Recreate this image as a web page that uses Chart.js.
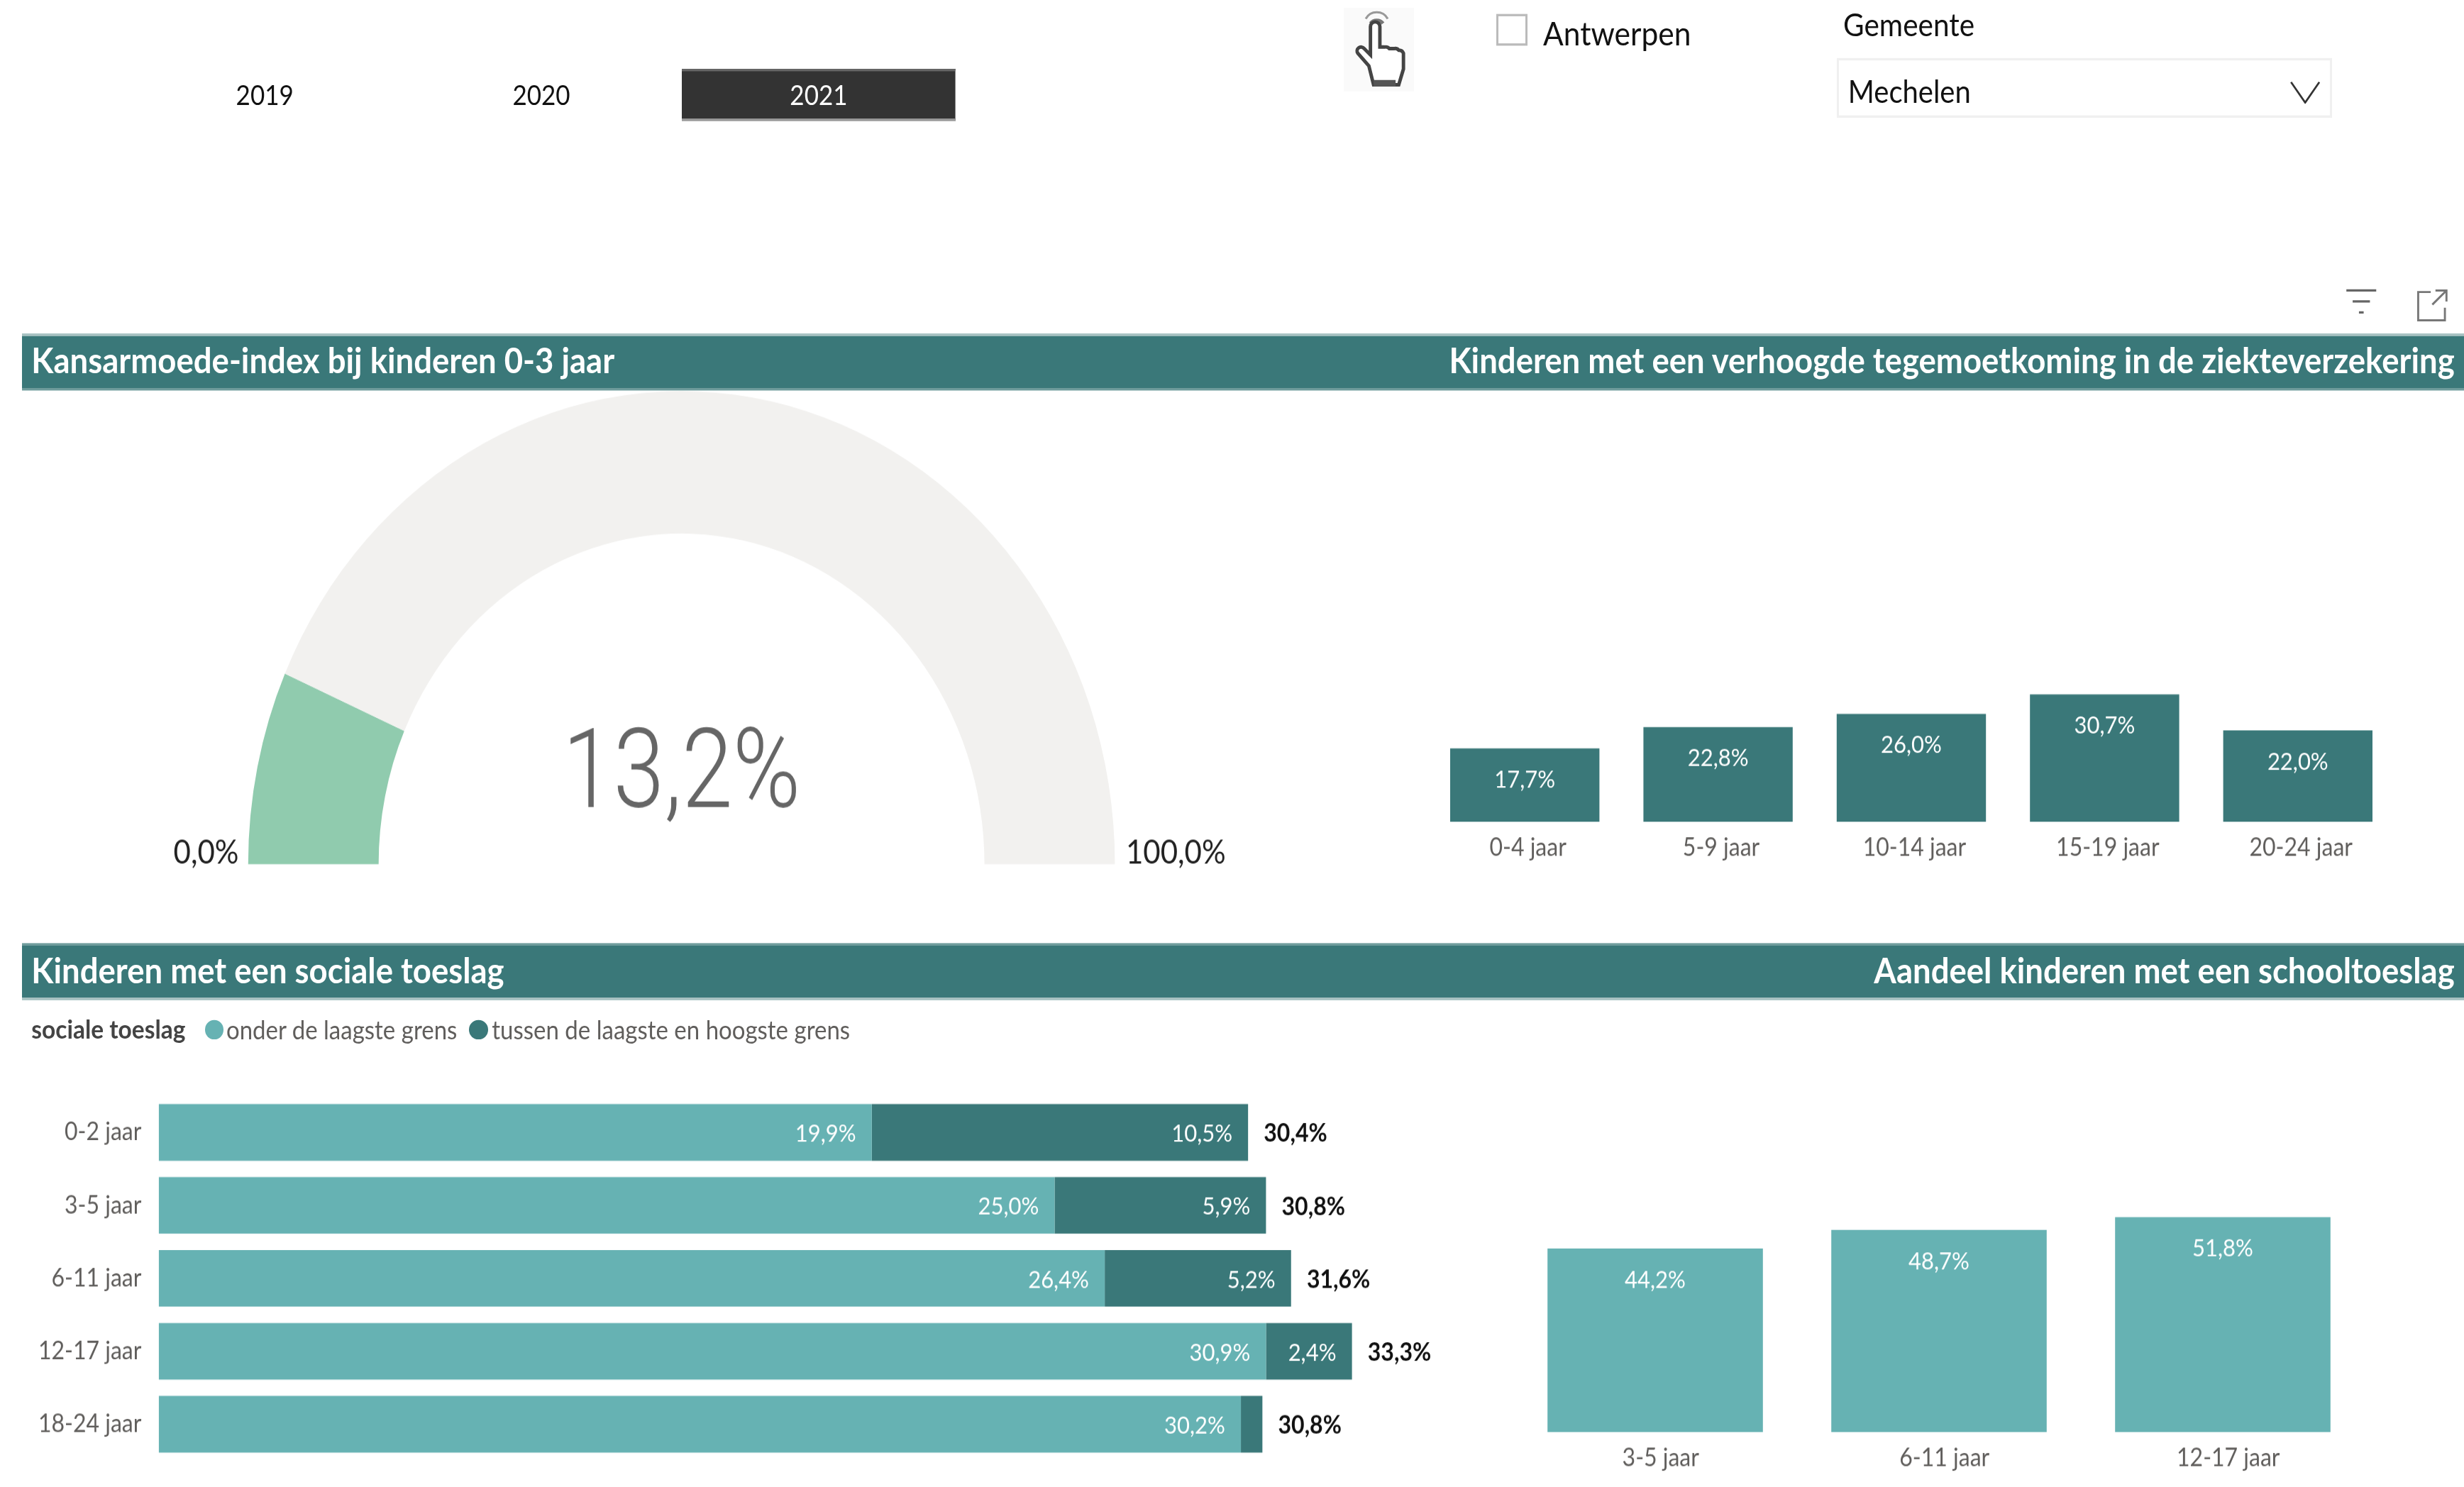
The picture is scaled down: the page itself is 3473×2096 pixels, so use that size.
<!DOCTYPE html>
<html><head><meta charset="utf-8">
<script src="https://cdn.jsdelivr.net/npm/chart.js@4"></script>
<style>
html,body{margin:0;padding:0;background:#fff;width:3473px;height:2096px;overflow:hidden}
#stage{position:absolute;left:0;top:0;width:3473px;height:1920px;transform-origin:0 0;transform:scaleY(1.0917);font-family:Lato,sans-serif}
#stage>*{position:absolute}
.t{white-space:nowrap;line-height:1}
canvas{display:block}
</style></head><body><div id="stage"></div>
<script>
const years=['2019','2020','2021'];
const gaugeValues=[13.2,86.8];
const gaugeMin='0,0%', gaugeMax='100,0%';
const healthCats=['0-4 jaar','5-9 jaar','10-14 jaar','15-19 jaar','20-24 jaar'];
const healthVals=[17.7,22.8,26.0,30.7,22.0];
const schoolCats=['3-5 jaar','6-11 jaar','12-17 jaar'];
const schoolVals=[44.2,48.7,51.8];
const socialCats=['0-2 jaar','3-5 jaar','6-11 jaar','12-17 jaar','18-24 jaar'];
const socialLow=[19.9,25.0,26.4,30.9,30.2];
const socialMid=[10.5,5.9,5.2,2.4,0.6];
const socialTotals=[30.4,30.8,31.6,33.3,30.8];
const DARK='#3A7879',LIGHT='#66B2B3',GREY='#605E5C';

const stage=document.getElementById('stage');
const SX=3473/1568, SY=2096/946/1.0917;
const X=v=>v*SX, Y=v=>v*SY;
function box(l,t,r,b,css,html){const d=document.createElement('div');
  d.style.cssText=`left:${X(l)}px;top:${Y(t)}px;width:${X(r-l)}px;height:${Y(b-t)}px;box-sizing:border-box;${css||''}`;
  if(html)d.innerHTML=html;stage.appendChild(d);return d;}
function text(s,x,y,size,opt={}){const d=document.createElement('div');d.className='t';d.textContent=s;
  const tx=opt.align==='right'?'-100%':opt.align==='left'?'0':'-50%';
  d.style.cssText=`left:${X(x)}px;top:${Y(y)}px;transform:translate(${tx},-50%);font-size:${size}px;color:${opt.color||'#111'};font-weight:${opt.weight||400};`;
  stage.appendChild(d);}
function canvas(l,t,r,b){const c=document.createElement('canvas');c.width=Math.round(X(r-l));c.height=Math.round(Y(b-t));
  c.style.left=X(l)+'px';c.style.top=Y(t)+'px';stage.appendChild(c);return c;}

/* slicers */
box(434,44,608,77,'background:#333;border-top:3px solid #666;border-bottom:3px solid #999;border-right:1px solid #888');
text(years[0],168.5,60,35);text(years[1],344.5,60,35);text(years[2],521,60,35,{color:'#fff'});
box(855,5,900,58,'background:#fafafa',`<svg viewBox="0 0 45 53" width="100%" height="100%" preserveAspectRatio="none" fill="#fff" stroke="#444" stroke-width="2.200">
<path d="M17 10a5 5 0 0 1 8 0" fill="none" stroke="#777"/><path d="M14 14a8 8 0 0 1 14 0" fill="none" stroke="#999" stroke-width="1.400" transform="translate(0,-7)"/>
<path d="M17 30V12a3 3 0 0 1 6 0v13l3 0a3 3 0 0 1 3 1l3 0a3 3 0 0 1 3 1a3 3 0 0 1 3 2v10l-3 10H19l-3-12-7-8a2.500 2.500 0 0 1 4-3z"/>
<path d="M19 46h14v4H19z" fill="#555" stroke="none"/></svg>`);
box(952,9,972,29,'border:3px solid #bbb;background:#fff');
text('Antwerpen',982,21,42.5,{align:'left'});
text('Gemeente',1173,16,40.5,{align:'left'});
box(1169,37,1484,75,'border:3px solid #f0f0f0');
text('Mechelen',1176,58,40,{align:'left'});
box(1457,51,1477,66,'',`<svg viewBox="0 0 20 15" width="100%" height="100%" preserveAspectRatio="none"><path d="M1 1l9 13 9-13" fill="none" stroke="#333" stroke-width="1.200"/></svg>`);
box(1492,183,1513,202,'',`<svg viewBox="0 0 21 19" width="100%" height="100%" preserveAspectRatio="none" stroke="#666" stroke-width="1.500"><path d="M1 2h19M5 9h11M9 16h3"/></svg>`);
box(1537,183,1559,205,'',`<svg viewBox="0 0 22 22" width="100%" height="100%" preserveAspectRatio="none" fill="none" stroke="#777" stroke-width="1.300"><path d="M10 3H2v18h17v-8M13 2h7v7M20 2l-9 9"/></svg>`);

/* title bands */
for(const [t,b] of [[212.5,248.5],[600,636]])
  box(14,t,1568,b,`background:${DARK};border-top:3px solid ${t<300?'#a9c3c3':'#6f9c9c'};border-bottom:3px solid ${t<300?'#6f9c9c':'#a9c3c3'}`);
const tw={color:'#fff',weight:700};
text('Kansarmoede-index bij kinderen 0-3 jaar',20,229,45.5,{...tw,align:'left'});
text('Kinderen met een verhoogde tegemoetkoming in de ziekteverzekering',1562,229,45.5,{...tw,align:'right'});
text('Kinderen met een sociale toeslag',20,617,45.5,{...tw,align:'left'});
text('Aandeel kinderen met een schooltoeslag',1562,617,45.5,{...tw,align:'right'});

/* legend */
text('sociale toeslag',20,655,33.500,{align:'left',weight:700,color:'#444'});
box(130.500,649,142,661,`background:${LIGHT};border-radius:50%`);
text('onder de laagste grens',144,655,33,{align:'left',color:GREY});
box(298.500,649,310.500,661,`background:${DARK};border-radius:50%`);
text('tussen de laagste en hoogste grens',313,655,33,{align:'left',color:GREY});

const fmt=v=>v.toFixed(1).replace('.',',')+'%';
const base={responsive:false,animation:false,devicePixelRatio:1,events:[],plugins:{legend:{display:false},tooltip:{enabled:false}},layout:{padding:0}};
const tick={color:GREY,font:{family:'Lato',size:32}};

/* gauge */
const gc=[100,249,860,590];
new Chart(canvas(...gc),{type:'doughnut',
 data:{datasets:[{data:gaugeValues,backgroundColor:['#90CBAE','#F2F1EF'],borderWidth:0}]},
 options:{...base,rotation:-90,circumference:180,cutout:'69.9%',
  layout:{padding:{left:X(158-gc[0]),right:X(gc[2]-710),top:0,bottom:Y(gc[3]-550)}}},
 plugins:[{id:'gaugeText',afterDraw(ch){const c=ch.ctx,a=ch.getDatasetMeta(0).data[0];
  const R=a.outerRadius;c.save();c.textBaseline='middle';
  c.save();c.translate(a.x,a.y-Y(54));c.scale(.91,1);c.font='300 142px Roboto';c.fillStyle='#666';c.textAlign='center';c.fillText(fmt(gaugeValues[0]),0,0);c.restore();
  c.font='42px Lato';c.fillStyle='#222';
  c.textAlign='right';c.fillText(gaugeMin,a.x-R-X(6),a.y-Y(7));
  c.textAlign='left';c.fillText(gaugeMax,a.x+R+X(7),a.y-Y(7));c.restore();}}]});

/* vertical bars */
function vbars(id,cats,vals,col,l,r,bottom,frac,shift){
 const top=bottom-264,lab=bottom+32;
 new Chart(canvas(l,top,r,lab),{type:'bar',
  data:{labels:cats,datasets:[{data:vals,backgroundColor:col,borderWidth:0,barPercentage:frac,categoryPercentage:1}]},
  options:{...base,scales:{
   y:{display:false,min:0,max:100},
   x:{grid:{display:false,drawTicks:false},border:{display:false},
      ticks:{...tick,padding:14,maxRotation:0,autoSkip:false,labelOffset:X(shift)},afterFit(s){s.height=Y(32);}}}},
  plugins:[{id:id,afterDatasetsDraw(ch){const c=ch.ctx;c.save();c.font='31px Lato';c.fillStyle='#fff';c.textAlign='center';c.textBaseline='middle';
   ch.getDatasetMeta(0).data.forEach((b,i)=>c.fillText(fmt(vals[i]),b.x,b.y+Y(20)));c.restore();}}]});
}
vbars('health',healthCats,healthVals,DARK,909,1524,522.6,95/123,2);
vbars('school',schoolCats,schoolVals,LIGHT,963,1505,910.7,137/180.5,3.5);

/* stacked horizontal bars */
new Chart(canvas(14,697,921.8,929),{type:'bar',
 data:{labels:socialCats,datasets:[
  {label:'onder de laagste grens',data:socialLow,backgroundColor:LIGHT,borderWidth:0,barPercentage:36/46.4,categoryPercentage:1},
  {label:'tussen de laagste en hoogste grens',data:socialMid,backgroundColor:DARK,borderWidth:0,barPercentage:36/46.4,categoryPercentage:1}]},
 options:{...base,indexAxis:'y',scales:{
  x:{display:false,stacked:true,min:0,max:36},
  y:{stacked:true,grid:{display:false,drawTicks:false},border:{display:false},
     ticks:{...tick,padding:X(11),autoSkip:false},afterFit(s){s.width=X(87);s.paddingTop=0;s.paddingBottom=0;}}}},
 plugins:[{id:'social',afterDatasetsDraw(ch){const c=ch.ctx;c.save();c.textBaseline='middle';
  [socialLow,socialMid].forEach((vals,d)=>ch.getDatasetMeta(d).data.forEach((b,i)=>{
    if(vals[i]<1)return;c.font='31px Lato';c.fillStyle='#fff';c.textAlign='right';c.fillText(fmt(vals[i]),b.x-X(10),b.y+Y(1));}));
  ch.getDatasetMeta(1).data.forEach((b,i)=>{c.font='700 32px Lato';c.fillStyle='#111';c.textAlign='left';c.fillText(fmt(socialTotals[i]),b.x+X(10),b.y+Y(1));});
  c.restore();}}]});
</script></body></html>
